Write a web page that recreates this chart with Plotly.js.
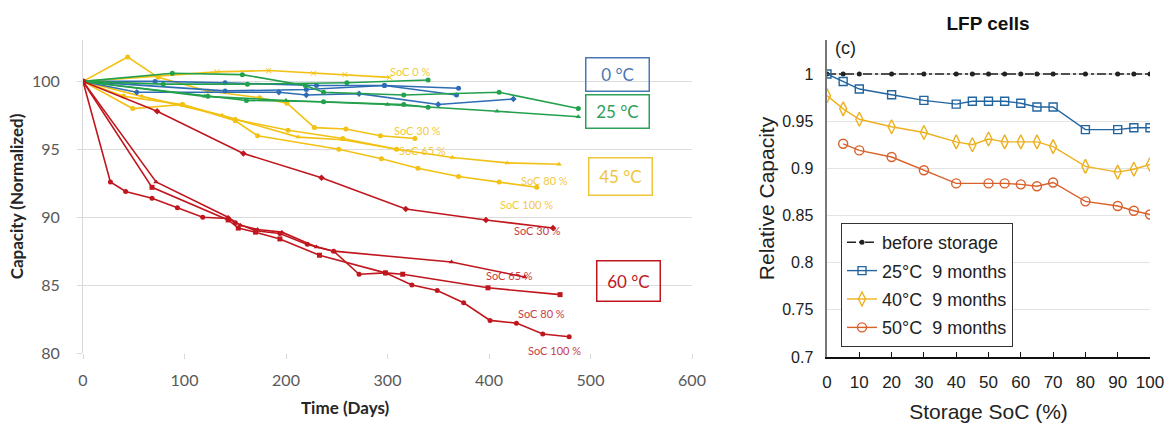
<!DOCTYPE html>
<html>
<head>
<meta charset="utf-8">
<script src="https://cdn.plot.ly/plotly-3.0.1.min.js"></script>
<style>html,body{margin:0;padding:0;background:#fff;}#chart{width:1168px;height:423px;}</style>
</head>
<body>
<div id="chart"></div>
<script>
// ---------- Left chart: capacity vs time ----------
// 0 °C (blue)
const days_0C_a = [0, 71, 140, 230, 297, 370];
const cap_0C_a  = [100, 100.0, 99.9, 99.7, 99.7, 99.5];
const days_0C_b = [0, 140, 220, 297, 368];
const cap_0C_b  = [100, 99.3, 99.4, 99.7, 99.0];
const days_0C_c = [0, 53, 193, 220, 272, 350, 424];
const cap_0C_c  = [100, 99.2, 99.2, 99.0, 99.1, 98.3, 98.7];
// 25 °C (green)
const days_25C_a = [0, 88, 157, 219, 237, 316, 410, 488];
const cap_25C_a  = [100, 100.6, 100.5, 99.7, 99.2, 99.0, 99.2, 98.0];
const days_25C_b = [0, 120, 200, 300, 408, 488];
const cap_25C_b  = [100, 98.9, 98.6, 98.3, 97.8, 97.4];
const days_25C_c = [0, 79, 162, 260, 340];
const cap_25C_c  = [100, 99.8, 99.8, 99.9, 100.1];
const days_25C_d = [0, 123, 161, 237, 316, 340];
const cap_25C_d  = [100, 98.9, 98.6, 98.5, 98.3, 98.1];
// 45 °C (yellow)
const days_45C_0   = [0, 132, 183, 227, 258, 302];
const cap_45C_0    = [100, 100.7, 100.8, 100.6, 100.5, 100.3];
const days_45C_30  = [0, 44, 74, 123, 174, 201, 228, 259, 293, 327];
const cap_45C_30   = [100, 101.8, 100.3, 99.3, 98.8, 98.4, 96.6, 96.5, 96.0, 95.8];
const days_45C_65  = [0, 40, 98, 150, 202, 256, 309];
const cap_45C_65   = [100, 98.9, 98.3, 97.2, 96.4, 95.8, 95.0];
const days_45C_80  = [0, 58, 137, 212, 256, 309, 364, 418, 469];
const cap_45C_80   = [100, 98.9, 97.5, 95.9, 95.7, 95.0, 94.4, 94.0, 93.9];
const days_45C_100 = [0, 49, 98, 150, 172, 252, 294, 330, 370, 410, 447];
const cap_45C_100  = [100, 98.0, 98.3, 97.1, 96.0, 95.0, 94.3, 93.6, 93.0, 92.6, 92.2];
// 60 °C (red)
const days_60C_30  = [0, 73, 158, 235, 318, 397, 463];
const cap_60C_30   = [100, 97.8, 94.7, 92.9, 90.6, 89.8, 89.2];
const days_60C_65  = [0, 72, 143, 155, 172, 196, 230, 247, 363, 435];
const cap_60C_65   = [100, 92.6, 90.0, 89.4, 89.1, 88.9, 87.8, 87.5, 86.7, 85.6];
const days_60C_80  = [0, 68, 143, 153, 170, 194, 233, 298, 315, 399, 470];
const cap_60C_80   = [100, 92.2, 89.8, 89.2, 88.9, 88.4, 87.2, 85.9, 85.8, 84.8, 84.3];
const days_60C_100 = [0, 27, 42, 68, 93, 118, 143, 150, 170, 194, 221, 247, 272, 298, 324, 349, 375, 401, 427, 453, 479];
const cap_60C_100  = [100, 92.6, 91.9, 91.4, 90.7, 90.0, 89.9, 89.6, 89.0, 88.8, 88.0, 87.5, 85.8, 85.9, 85.0, 84.6, 83.7, 82.4, 82.2, 81.4, 81.2];

const leftXTicks = [0, 100, 200, 300, 400, 500, 600];
const leftYTicks = [80, 85, 90, 95, 100];

// ---------- Right chart: LFP cells ----------
const soc_all   = [0, 5, 10, 20, 30, 40, 45, 50, 55, 60, 65, 70, 80, 90, 95, 100];
const cap_before = [1, 1, 1, 1, 1, 1, 1, 1, 1, 1, 1, 1, 1, 1, 1, 1];
const cap_25C_9m = [1.0, 0.992, 0.984, 0.978, 0.972, 0.968, 0.971, 0.971, 0.971, 0.969, 0.965, 0.965, 0.941, 0.941, 0.943, 0.943];
const cap_40C_9m = [0.977, 0.963, 0.952, 0.944, 0.938, 0.928, 0.925, 0.931, 0.928, 0.928, 0.928, 0.923, 0.902, 0.896, 0.899, 0.904];
const soc_50C    = [5, 10, 20, 30, 40, 50, 55, 60, 65, 70, 80, 90, 95, 100];
const cap_50C_9m = [0.926, 0.919, 0.912, 0.898, 0.884, 0.884, 0.884, 0.883, 0.881, 0.885, 0.865, 0.860, 0.855, 0.851];
const rightXTicks = [0, 10, 20, 30, 40, 50, 60, 70, 80, 90, 100];
const rightYTicks = [0.7, 0.75, 0.8, 0.85, 0.9, 0.95, 1];
const rightYLabels = ['0.7', '0.75', '0.8', '0.85', '0.9', '0.95', '1'];

const BLUE = '#2E6DB4', GREEN = '#22A04B', YELLOW = '#F2C114', RED = '#C0161E';

function L(x, y, color, symbol) {
  return {x: x, y: y, xaxis: 'x', yaxis: 'y', type: 'scatter', mode: 'lines+markers',
    line: {color: color, width: 1.6}, marker: {color: color, size: 5, symbol: symbol},
    showlegend: false, hoverinfo: 'x+y'};
}

const traces = [
  L(days_45C_0, cap_45C_0, YELLOW, 'x-thin-open'),
  L(days_45C_30, cap_45C_30, YELLOW, 'circle'),
  L(days_45C_65, cap_45C_65, YELLOW, 'circle'),
  L(days_45C_80, cap_45C_80, YELLOW, 'triangle-up'),
  L(days_45C_100, cap_45C_100, YELLOW, 'circle'),
  L(days_0C_a, cap_0C_a, BLUE, 'circle'),
  L(days_0C_b, cap_0C_b, BLUE, 'circle'),
  L(days_0C_c, cap_0C_c, BLUE, 'diamond'),
  L(days_25C_a, cap_25C_a, GREEN, 'circle'),
  L(days_25C_b, cap_25C_b, GREEN, 'triangle-up'),
  L(days_25C_c, cap_25C_c, GREEN, 'circle'),
  L(days_25C_d, cap_25C_d, GREEN, 'circle'),
  L(days_60C_30, cap_60C_30, RED, 'diamond'),
  L(days_60C_65, cap_60C_65, RED, 'triangle-up'),
  L(days_60C_80, cap_60C_80, RED, 'square'),
  L(days_60C_100, cap_60C_100, RED, 'circle'),
  // right chart
  {x: soc_all, y: cap_before, xaxis: 'x2', yaxis: 'y2', type: 'scatter', mode: 'lines+markers',
   name: 'before storage', legendgroup: 'g1', line: {color: '#222', width: 1.6, dash: 'dashdot'},
   marker: {color: '#222', size: 5, symbol: 'circle'}},
  {x: soc_all, y: cap_25C_9m, xaxis: 'x2', yaxis: 'y2', type: 'scatter', mode: 'lines+markers',
   name: '25°C  9 months', legendgroup: 'g2', line: {color: '#23659F', width: 1.4},
   marker: {color: '#23659F', size: 8, symbol: 'square-open', line: {width: 1.4}}},
  {x: soc_all, y: cap_40C_9m, xaxis: 'x2', yaxis: 'y2', type: 'scatter', mode: 'lines+markers',
   name: '40°C  9 months', legendgroup: 'g3', line: {color: '#EDB120', width: 1.4},
   marker: {color: '#EDB120', size: 10, symbol: 'diamond-tall-open', line: {width: 1.4}}},
  {x: soc_50C, y: cap_50C_9m, xaxis: 'x2', yaxis: 'y2', type: 'scatter', mode: 'lines+markers',
   name: '50°C  9 months', legendgroup: 'g4', line: {color: '#D9602A', width: 1.4},
   marker: {color: '#D9602A', size: 9, symbol: 'circle-open', line: {width: 1.4}}}
];

const LF = 'Lato, "Open Sans", sans-serif';
const RF = '"Liberation Sans Narrow", "Liberation Sans", Arial, sans-serif';
const RFW = '"Liberation Sans", Arial, sans-serif';

function box(text, x, y, color, w, h) {
  return {xref: 'x', yref: 'y', x: x, y: y, text: text, showarrow: false,
    font: {family: LF, size: 17, color: color}, bordercolor: color, borderwidth: 1.5,
    width: w, height: h, bgcolor: 'rgba(255,255,255,0)'};
}
function soc(text, x, y, color) {
  return {xref: 'x', yref: 'y', x: x, y: y, text: text, showarrow: false,
    font: {family: LF, size: 11, color: color}, opacity: 0.85};
}

const layout = {
  width: 1168, height: 423,
  margin: {l: 0, r: 0, t: 0, b: 0},
  paper_bgcolor: '#fff', plot_bgcolor: 'rgba(0,0,0,0)',
  showlegend: true,
  title: {text: '<b>LFP cells</b>', x: 988/1168, xanchor: 'center', y: 1 - 23/423, yanchor: 'middle',
          font: {family: RFW, size: 19, color: '#111'}},
  xaxis: {domain: [83/1168, 692/1168], range: [0, 600], tickvals: leftXTicks,
    showgrid: false, zeroline: false, showline: false, ticks: 'outside', ticklen: 5,
    tickcolor: '#d9d9d9', tickfont: {family: LF, size: 16, color: '#595959'}, ticklabelstandoff: 8,
    anchor: 'y', fixedrange: true},
  yaxis: {domain: [1 - 353/423, 1 - 40/423], range: [80, 103.05], tickvals: leftYTicks,
    showgrid: true, gridcolor: '#dcdcdc', gridwidth: 1, zeroline: false,
    showline: true, linecolor: '#d9d9d9', linewidth: 1, ticks: 'outside', ticklen: 5,
    tickcolor: '#d9d9d9', tickfont: {family: LF, size: 16, color: '#595959'}, ticklabelstandoff: 14,
    title: {text: '<b>Capacity (Normalized)</b>', font: {family: LF, size: 17, color: '#262626'}, standoff: 4},
    anchor: 'x', fixedrange: true},
  xaxis2: {domain: [827/1168, 1150/1168], range: [0, 100], tickvals: rightXTicks,
    showgrid: false, zeroline: false, showline: true, linecolor: '#111', linewidth: 1.5,
    ticks: 'inside', ticklen: 5, tickcolor: '#111', ticklabelstandoff: 9,
    tickfont: {family: RF, size: 17, color: '#222'},
    title: {text: 'Storage SoC (%)', font: {family: RFW, size: 21, color: '#222'}, standoff: 17},
    anchor: 'y2', fixedrange: true},
  yaxis2: {domain: [1 - 357/423, 1 - 40/423], range: [0.7, 1.036], tickvals: rightYTicks, ticktext: rightYLabels,
    showgrid: true, gridcolor: '#e3e3e3', gridwidth: 1.2, zeroline: false,
    showline: true, linecolor: '#777', linewidth: 2.5, ticks: '', ticklabelstandoff: 8,
    tickfont: {family: RF, size: 16, color: '#222'},
    title: {text: 'Relative Capacity', font: {family: RFW, size: 21, color: '#222'}, standoff: 2},
    anchor: 'x2', fixedrange: true},
  legend: {x: 841/1168, y: 1 - 223/423, xanchor: 'left', yanchor: 'top',
    bgcolor: '#fff', bordercolor: '#333', borderwidth: 1,
    font: {family: RF, size: 18, color: '#222'}, tracegroupgap: 2, itemwidth: 30},
  annotations: [
    {xref: 'paper', yref: 'paper', x: 345/1168, y: 1 - 407/423, xanchor: 'center', yanchor: 'middle',
     text: '<b>Time (Days)</b>', showarrow: false, font: {family: LF, size: 17, color: '#262626'}},
    box('0 °C', 527, 100.5, '#4A78B4', 60, 30),
    box('25 °C', 527, 97.8, '#2EA05A', 60, 30),
    box('45 °C', 530, 93.0, '#EFC53A', 60, 34),
    box('60 °C', 537, 85.3, '#C0161E', 60, 37),
    soc('SoC 0 %', 322, 100.7, YELLOW),
    soc('SoC 30 %', 330, 96.4, YELLOW),
    soc('SoC 65 %', 334, 94.9, YELLOW),
    soc('SoC 80 %', 455, 92.7, YELLOW),
    soc('SoC 100 %', 437, 90.9, YELLOW),
    soc('SoC 30 %', 448, 89.0, RED),
    soc('SoC 65 %', 420, 85.7, RED),
    soc('SoC 80 %', 452, 82.9, RED),
    soc('SoC 100 %', 465, 80.2, RED),
    {xref: 'paper', yref: 'paper', x: 845/1168, y: 1 - 48/423, xanchor: 'center', yanchor: 'middle',
     text: '(c)', showarrow: false, font: {family: RFW, size: 18, color: '#222'}}
  ]
};

Plotly.newPlot('chart', traces, layout, {displayModeBar: false, staticPlot: true});
</script>
</body>
</html>
